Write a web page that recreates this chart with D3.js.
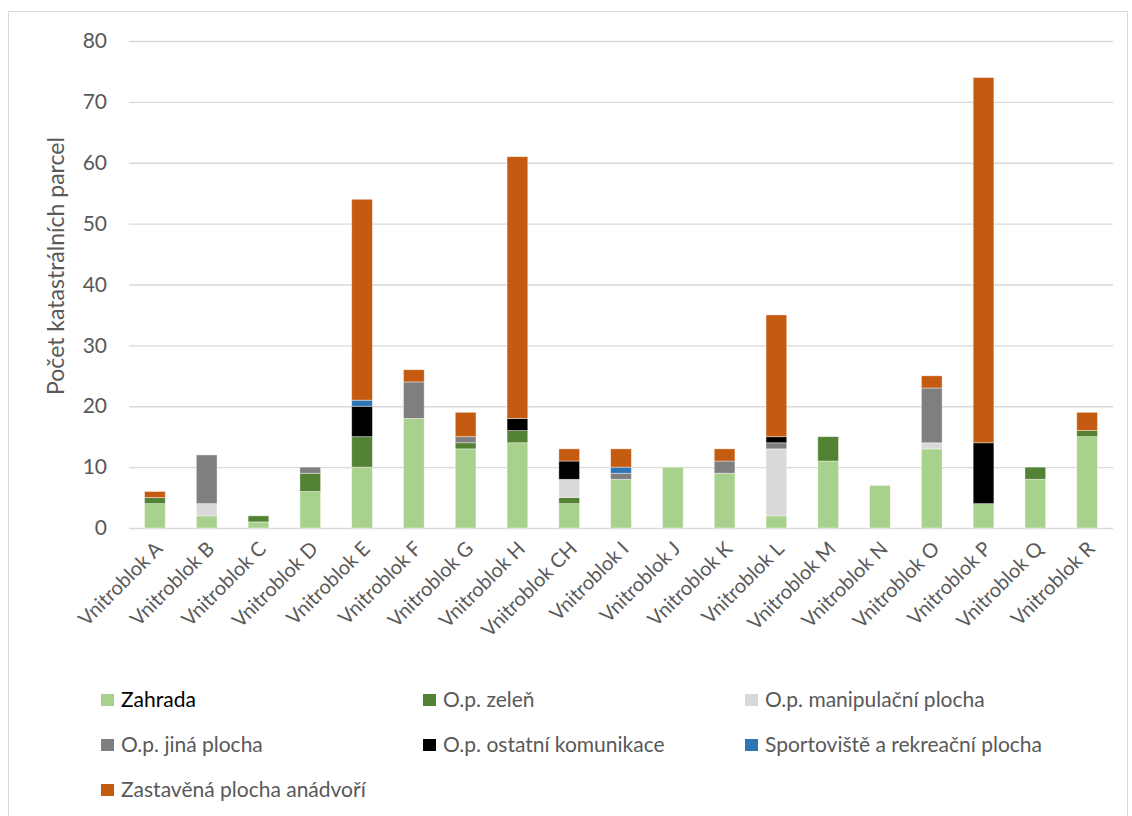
<!DOCTYPE html>
<html>
<head>
<meta charset="utf-8">
<script src="https://cdn.jsdelivr.net/npm/d3@7/dist/d3.min.js"></script>
<style>
  html, body { margin: 0; padding: 0; background: #fff; }
  svg { display: block; }
  text { font-family: Lato, "Open Sans", sans-serif; }
</style>
</head>
<body>
<svg id="chart" width="1132" height="816"></svg>
<script>
// Categories (inner blocks)
const categories = ["Vnitroblok A", "Vnitroblok B", "Vnitroblok C", "Vnitroblok D", "Vnitroblok E",
  "Vnitroblok F", "Vnitroblok G", "Vnitroblok H", "Vnitroblok CH", "Vnitroblok I", "Vnitroblok J",
  "Vnitroblok K", "Vnitroblok L", "Vnitroblok M", "Vnitroblok N", "Vnitroblok O", "Vnitroblok P",
  "Vnitroblok Q", "Vnitroblok R"];

// Parcel counts per land-use type, one value per block
const zahrada      = [4, 2, 1, 6, 10, 18, 13, 14, 4, 8, 10, 9, 2, 11, 7, 13, 4, 8, 15];
const zelen        = [1, 0, 1, 3, 5, 0, 1, 2, 1, 0, 0, 0, 0, 4, 0, 0, 0, 2, 1];
const manipulacni  = [0, 2, 0, 0, 0, 0, 0, 0, 3, 0, 0, 0, 11, 0, 0, 1, 0, 0, 0];
const jina         = [0, 8, 0, 1, 0, 6, 1, 0, 0, 1, 0, 2, 1, 0, 0, 9, 0, 0, 0];
const komunikace   = [0, 0, 0, 0, 5, 0, 0, 2, 3, 0, 0, 0, 1, 0, 0, 0, 10, 0, 0];
const sportoviste  = [0, 0, 0, 0, 1, 0, 0, 0, 0, 1, 0, 0, 0, 0, 0, 0, 0, 0, 0];
const zastavena    = [1, 0, 0, 0, 33, 2, 4, 43, 2, 3, 0, 2, 20, 0, 0, 2, 60, 0, 3];

const seriesNames = ["Zahrada", "O.p. zeleň", "O.p. manipulační plocha", "O.p. jiná plocha",
  "O.p. ostatní komunikace", "Sportoviště a rekreační plocha", "Zastavěná plocha anádvoří"];
const seriesValues = [zahrada, zelen, manipulacni, jina, komunikace, sportoviste, zastavena];
const seriesColors = ["#A9D18E", "#548235", "#D9D9D9", "#7F7F7F", "#000000", "#2E75B6", "#C55A11"];

const yTicks = [0, 10, 20, 30, 40, 50, 60, 70, 80];
const yTitle = "Počet katastrálních parcel";

// Table for d3.stack
const rows = categories.map((c, i) => {
  const r = { cat: c };
  seriesNames.forEach((s, k) => { r[s] = seriesValues[k][i]; });
  return r;
});
const stacked = d3.stack().keys(seriesNames)(rows);

const svg = d3.select("#chart");

// Chart frame
svg.append("rect")
  .attr("x", 8.5).attr("y", 11.5)
  .attr("width", 1119).attr("height", 830)
  .attr("fill", "#fff").attr("stroke", "#D9D9D9").attr("stroke-width", 1);

const plot = { left: 129, right: 1113, top: 41, bottom: 528 };

const x = d3.scaleBand()
  .domain(categories)
  .range([plot.left, plot.right])
  .paddingInner(0.6)
  .paddingOuter(0.3);

const y = d3.scaleLinear()
  .domain([0, 80])
  .range([plot.bottom, plot.top]);

// Gridlines and y tick labels
const yAxis = d3.axisLeft(y).tickValues(yTicks)
  .tickSize(-(plot.right - plot.left)).tickPadding(22);
const gy = svg.append("g")
  .attr("transform", `translate(${plot.left},0)`)
  .call(yAxis);
gy.select(".domain").remove();
gy.selectAll(".tick line").attr("stroke", "#D9D9D9").attr("stroke-width", 1.3);
gy.selectAll(".tick text")
  .attr("fill", "#595959").attr("font-size", 21)
  .style("font-family", "Lato, 'Open Sans', sans-serif");

// Y axis title
svg.append("text")
  .attr("transform", "translate(64,266) rotate(-90)")
  .attr("text-anchor", "middle")
  .attr("fill", "#595959")
  .attr("font-size", 23)
  .text(yTitle);

// Stacked bars
svg.append("g").selectAll("g")
  .data(stacked)
  .join("g")
  .attr("fill", (d, i) => seriesColors[i])
  .selectAll("rect")
  .data(d => d.filter(p => p[1] - p[0] > 0))
  .join("rect")
  .attr("x", d => x(d.data.cat))
  .attr("width", x.bandwidth())
  .attr("y", d => y(d[1]))
  .attr("height", d => y(d[0]) - y(d[1]))
  .attr("stroke", "#fff").attr("stroke-opacity", 0.5).attr("stroke-width", 0.8);

// X category labels, rotated
const gx = svg.append("g")
  .attr("transform", `translate(0,${plot.bottom})`)
  .call(d3.axisBottom(x).tickSize(0).tickPadding(0));
gx.select(".domain").remove();
gx.selectAll(".tick text")
  .attr("fill", "#595959").attr("font-size", 20)
  .style("font-family", "Lato, 'Open Sans', sans-serif")
  .attr("text-anchor", "end")
  .attr("dy", 0)
  .attr("transform", "translate(9,22) rotate(-45)");

// Legend (3 columns)
const legendCols = [101, 423, 745];
const legendRows = [700, 745, 790];
const legend = svg.append("g").selectAll("g")
  .data(seriesNames)
  .join("g")
  .attr("transform", (d, i) => `translate(${legendCols[i % 3]},${legendRows[Math.floor(i / 3)]})`);
legend.append("rect")
  .attr("x", 0).attr("y", -6).attr("width", 13).attr("height", 12)
  .attr("fill", (d, i) => seriesColors[i]);
legend.append("text")
  .attr("x", 20).attr("y", 0).attr("dy", "0.35em")
  .attr("font-size", 21)
  .attr("fill", (d, i) => i === 0 ? "#000" : "#595959")
  .text(d => d);
</script>
</body>
</html>
